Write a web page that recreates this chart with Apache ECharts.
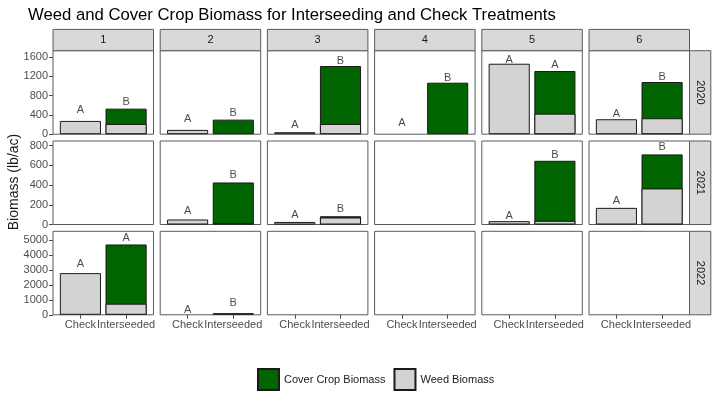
<!DOCTYPE html>
<html><head><meta charset="utf-8">
<script src="https://cdn.jsdelivr.net/npm/echarts@6/dist/echarts.min.js"></script>
<style>html,body{margin:0;padding:0;background:#fff}#c{width:720px;height:405px}</style>
</head><body><div id="c"></div>
<script>
// ---------- data ----------
const facets = ['1', '2', '3', '4', '5', '6'];
const years = ['2020', '2021', '2022'];
const treatments = ['Check', 'Interseeded'];
const seriesNames = ['Cover Crop Biomass', 'Weed Biomass'];

const yTicks2020 = [0, 400, 800, 1200, 1600];
const yTicks2021 = [0, 200, 400, 600, 800];
const yTicks2022 = [0, 1000, 2000, 3000, 4000, 5000];
const yMax = [1725, 848, 5610];

// [Check, Interseeded] per facet; null = no data for that facet/year
const weed2020 = [[274, 212], [89, 0], [41, 212], [0, 0], [1456, 425], [309, 330]];
const cover2020 = [[0, 316], [0, 301], [0, 1196], [0, 1064], [0, 880], [0, 748]];
const weed2021 = [null, [51, 16], [26, 71], null, [34, 37], [169, 366]];
const cover2021 = [null, [0, 411], [0, 13], null, [0, 610], [0, 346]];
const weed2022 = [[2800, 747], [0, 0], null, null, null, null];
const cover2022 = [[0, 3979], [0, 110], null, null, null, null];

const letters2020 = [['A', 'B'], ['A', 'B'], ['A', 'B'], ['A', 'B'], ['A', 'A'], ['A', 'B']];
const letterY2020 = [[507, 660], [315, 433], [192, 1511], [227, 1155], [1538, 1423], [419, 1188]];
const letters2021 = [null, ['A', 'B'], ['A', 'B'], null, ['A', 'B'], ['A', 'B']];
const letterY2021 = [null, [139, 505], [92, 159], null, [88, 709], [240, 784]];
const letters2022 = [['A', 'A'], ['A', 'B'], null, null, null, null];
const letterY2022 = [[3395, 5160], [357, 781], null, null, null, null];

// ---------- build ----------
const weedRows = [weed2020, weed2021, weed2022];
const coverRows = [cover2020, cover2021, cover2022];
const letterRows = [letters2020, letters2021, letters2022];
const letterYRows = [letterY2020, letterY2021, letterY2022];
const yTickRows = [yTicks2020, yTicks2021, yTicks2022];

const FONT = 'Liberation Sans';
const L0 = 53, PW = 100.5, GX = 6.7, T0 = 50.7, PH = 83.5, GY = 6.8, STRIP = 21.3;
const BORDER = '#5a5a5a';
const GREEN = '#006400', GRAY = '#d3d3d3', OUTLINE = '#1a1a1a';
const barW = 0.9 * PW / 2.2;
const nz = v => (v > 0 ? v : '-');

const grids = [], xAxes = [], yAxes = [], series = [], graphics = [];

for (let r = 0; r < years.length; r++) {
  for (let c = 0; c < facets.length; c++) {
    const idx = r * facets.length + c;
    const left = L0 + c * (PW + GX);
    const top = T0 + r * (PH + GY);
    grids.push({ left, top, width: PW, height: PH, show: true, borderColor: BORDER, borderWidth: 1, backgroundColor: '#fff' });
    xAxes.push({
      type: 'value', gridIndex: idx, min: 0.4, max: 2.6,
      splitLine: { show: false }, axisLine: { show: false },
      axisTick: { show: r === years.length - 1, customValues: [1, 2], length: 4, lineStyle: { color: '#4d4d4d' } },
      axisLabel: { show: r === years.length - 1, customValues: [1, 2], formatter: v => treatments[Math.round(v) - 1],
        color: '#4d4d4d', fontSize: 11, margin: 5, fontFamily: FONT }
    });
    yAxes.push({
      type: 'value', gridIndex: idx, min: 0, max: yMax[r],
      splitLine: { show: false }, axisLine: { show: false },
      axisTick: { show: c === 0, customValues: yTickRows[r], length: 4, lineStyle: { color: '#4d4d4d' } },
      axisLabel: { show: c === 0, customValues: yTickRows[r], formatter: v => String(v),
        color: '#4d4d4d', fontSize: 11, margin: 5, fontFamily: FONT }
    });
    const w = weedRows[r][c], cv = coverRows[r][c];
    if (w) {
      // cover crop sits on top of weed biomass: draw the full stack height in green,
      // then the weed part in gray over its lower portion
      series.push({
        type: 'bar', name: seriesNames[0], xAxisIndex: idx, yAxisIndex: idx,
        barWidth: barW, barGap: '-100%',
        data: [[1, cv[0] > 0 ? w[0] + cv[0] : '-'], [2, cv[1] > 0 ? w[1] + cv[1] : '-']],
        itemStyle: { color: GREEN, borderColor: OUTLINE, borderWidth: 1 }, silent: true
      });
      series.push({
        type: 'bar', name: seriesNames[1], xAxisIndex: idx, yAxisIndex: idx,
        barWidth: barW, barGap: '-100%',
        data: [[1, nz(w[0])], [2, nz(w[1])]],
        itemStyle: { color: GRAY, borderColor: OUTLINE, borderWidth: 1 }, silent: true
      });
    }
    const lt = letterRows[r][c], ly = letterYRows[r][c];
    if (lt) {
      series.push({
        type: 'scatter', name: 'letters', xAxisIndex: idx, yAxisIndex: idx, symbolSize: 0, silent: true, z: 5,
        data: [{ name: lt[0], value: [1, ly[0]] }, { name: lt[1], value: [2, ly[1]] }],
        label: { show: true, position: 'inside', formatter: '{b}', color: '#1a1a1a', fontSize: 11, fontFamily: FONT }
      });
    }
    if (r === 0) {
      graphics.push({ type: 'rect', shape: { x: left, y: top - STRIP, width: PW, height: STRIP },
        style: { fill: '#d9d9d9', stroke: BORDER, lineWidth: 1 } });
      graphics.push({ type: 'text', x: left + PW / 2, y: top - STRIP / 2,
        style: { text: facets[c], fill: '#1a1a1a', font: '11px ' + FONT, align: 'center', verticalAlign: 'middle' } });
    }
    if (c === facets.length - 1) {
      graphics.push({ type: 'rect', shape: { x: left + PW, y: top, width: STRIP, height: PH },
        style: { fill: '#d9d9d9', stroke: BORDER, lineWidth: 1 } });
      graphics.push({ type: 'text', x: left + PW + STRIP / 2, y: top + PH / 2, rotation: -Math.PI / 2,
        style: { text: years[r], fill: '#1a1a1a', font: '11px ' + FONT, align: 'center', verticalAlign: 'middle' } });
    }
  }
}
graphics.push({ type: 'text', x: 14, y: 182, rotation: Math.PI / 2,
  style: { text: 'Biomass (lb/ac)', fill: '#1a1a1a', font: '14px ' + FONT, align: 'center', verticalAlign: 'middle' } });

const chart = echarts.init(document.getElementById('c'), null, { renderer: 'canvas' });
chart.setOption({
  animation: false,
  backgroundColor: '#fff',
  textStyle: { fontFamily: FONT },
  title: { text: 'Weed and Cover Crop Biomass for Interseeding and Check Treatments', left: 28, top: 7, padding: 0,
    textStyle: { fontSize: 16.7, fontWeight: 'normal', color: '#000', fontFamily: FONT } },
  legend: { data: seriesNames, left: 257, top: 368, padding: 0, itemWidth: 21, itemHeight: 21, itemGap: 8, icon: 'rect',
    textStyle: { fontSize: 11, color: '#1a1a1a', fontFamily: FONT }, selectedMode: false },
  grid: grids, xAxis: xAxes, yAxis: yAxes, series, graphic: graphics
});
</script></body></html>
